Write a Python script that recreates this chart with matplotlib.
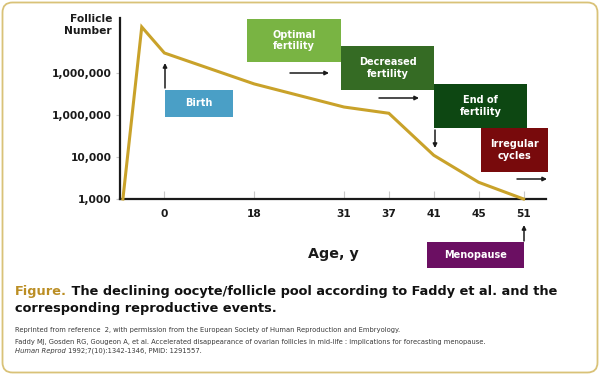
import matplotlib

matplotlib.use("Agg")
import matplotlib.pyplot as plt
import numpy as np
from matplotlib.patches import FancyBboxPatch, Rectangle
from matplotlib.transforms import IdentityTransform

# Faddy et al. follicle pool
ages = [-0.77, -0.42, 0, 18, 31, 37, 41, 45, 51]
follicles = [1e3, 1.25e7, 3.0e6, 5.5e5, 1.55e5, 1.1e5, 1.1e4, 2.5e3, 1e3]

age_ticks = [0, 18, 31, 37, 41, 45, 51]
count_ticks = [1e3, 1e4, 1e5, 1e6]
count_labels = ["1,000", "10,000", "1,000,000", "1,000,000"]

stage_labels = ["Birth", "Optimal\nfertility", "Decreased\nfertility",
                "End of\nfertility", "Irregular\ncycles", "Menopause"]
stage_colors = ["#4a9fc6", "#79b443", "#356b24", "#0d4712", "#780a0c", "#6b0f62"]

# x axis is schematic: ages are spaced by slot, not linearly
anchor_ages = [-10, -1, 0, 18, 31, 37, 41, 45, 51, 60, 1000]
anchor_slots = [-13, -1.2, 0, 2, 4, 5, 6, 7, 8, 9, 949]

W, H = 600, 375
gold = "#c9a22a"


def fx(x):
    return x / W


def fy(y):
    return 1 - y / H


fig = plt.figure(figsize=(W / 100, H / 100), dpi=100)
fig.patch.set_facecolor("white")

ax = fig.add_axes([fx(119.5), fy(199), (546 - 119.5) / W, (199 - 18) / H])
ax.set_xscale(
    "function",
    functions=(
        lambda a: np.interp(a, anchor_ages, anchor_slots),
        lambda s: np.interp(s, anchor_slots, anchor_ages),
    ),
)
ax.set_yscale("log")
ax.plot(ages, follicles, color=gold, lw=2.2, clip_on=False, solid_joinstyle="miter", zorder=3)

ax.set_xlim(-0.833, 55.5)
ax.set_ylim(1e3, 10 ** 7.31)
ax.set_xticks(age_ticks)
ax.set_xticklabels([str(a) for a in age_ticks])
ax.set_yticks(count_ticks)
ax.set_yticklabels(count_labels)
ax.minorticks_off()
for s in ["top", "right"]:
    ax.spines[s].set_visible(False)
for s in ["left", "bottom"]:
    ax.spines[s].set_linewidth(1.6)
    ax.spines[s].set_color("#1a1a1a")
ax.tick_params(axis="x", direction="in", length=6, width=0.8, color="#c8c8c8", pad=7)
ax.tick_params(axis="y", direction="out", length=3, width=0.8, color="#c8c8c8", pad=2.5)
for lbl in ax.get_xticklabels() + ax.get_yticklabels():
    lbl.set_fontweight("bold")
    lbl.set_fontsize(7.7)
    lbl.set_color("#1a1a1a")
ax.patch.set_alpha(0)

fig.text(fx(112), fy(25), "Follicle\nNumber", ha="right", va="center",
         fontsize=7.7, fontweight="bold", color="#1a1a1a", linespacing=1.15)
fig.text(fx(333), fy(254), "Age, y", ha="center", va="center",
         fontsize=10.3, fontweight="bold", color="#1a1a1a")

# stage boxes (x0, y0, x1, y1 in pixels)
boxes = [(165, 90, 233, 117), (247, 19, 341, 62), (341, 46, 434, 90),
         (434, 84, 527, 128), (481, 128, 548, 172), (427, 242, 524, 268)]
for label, color, (x0, y0, x1, y1) in zip(stage_labels, stage_colors, boxes):
    fig.add_artist(Rectangle((fx(x0), fy(y1)), fx(x1 - x0), (y1 - y0) / H,
                             transform=fig.transFigure, facecolor=color,
                             edgecolor="none", zorder=2))
    fig.text(fx((x0 + x1) / 2), fy((y0 + y1) / 2), label, ha="center", va="center",
             fontsize=7.0, fontweight="bold", color="white", linespacing=1.2, zorder=4)

# arrows
arrows = [((165, 88), (165, 63)), ((290, 73), (329, 73)), ((379, 98), (419, 98)),
          ((435, 130), (435, 148)), ((517, 179), (547, 179)), ((524, 241), (524, 225))]
for (x0, y0), (x1, y1) in arrows:
    fig.add_artist(plt.Annotation("", xy=(fx(x1), fy(y1)), xytext=(fx(x0), fy(y0)),
                                  xycoords="figure fraction", textcoords="figure fraction",
                                  arrowprops=dict(arrowstyle="-|>", color="#1a1a1a",
                                                  lw=1.1, mutation_scale=6,
                                                  shrinkA=0, shrinkB=0)))

# caption
t = fig.text(fx(15), fy(292), "Figure.", ha="left", va="center",
             fontsize=9.25, fontweight="bold", color="#bb8e24")
ax.annotate(" The declining oocyte/follicle pool according to Faddy et al. and the",
            xy=(1, 0), xycoords=t, va="bottom", ha="left",
            fontsize=9.25, fontweight="bold", color="#111111")
fig.text(fx(15), fy(308.5), "corresponding reproductive events.", ha="left", va="center",
         fontsize=9.25, fontweight="bold", color="#111111")

small = dict(ha="left", va="center", fontsize=4.9, color="#3a3a3a")
fig.text(fx(15), fy(330),
         "Reprinted from reference  2, with permission from the European Society of "
         "Human Reproduction and Embryology.", **small)
fig.text(fx(15), fy(342),
         "Faddy MJ, Gosden RG, Gougeon A, et al. Accelerated disappearance of ovarian "
         "follicles in mid-life : implications for forecasting menopause.", **small)
ref = fig.text(fx(15), fy(351), "Human Reprod", style="italic", **small)
ax.annotate(" 1992;7(10):1342-1346, PMID: 1291557.", xy=(1, 0), xycoords=ref,
            va="bottom", ha="left", fontsize=4.9, color="#3a3a3a")

# rounded frame
fig.add_artist(FancyBboxPatch((2.5, 2.5), W - 5, H - 5,
                              boxstyle="round,pad=0,rounding_size=10",
                              transform=IdentityTransform(), facecolor="none",
                              edgecolor="#d9c278", lw=1.3))

fig.savefig("out.png", dpi=100)
